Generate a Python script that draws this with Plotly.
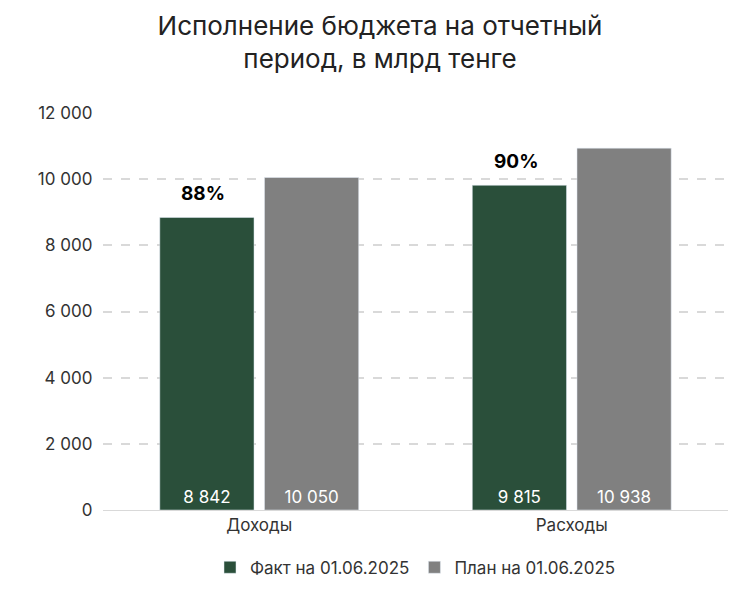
import plotly.graph_objects as go

categories = ["Доходы", "Расходы"]
fact = [8842, 9815]
plan = [10050, 10938]
pct = ["88%", "90%"]
fact_name = "Факт на 01.06.2025"
plan_name = "План на 01.06.2025"

def fmt(v):
    return f"{v:,}".replace(",", " ")

FONT = "Inter, Open Sans, sans-serif"

fig = go.Figure()
fig.add_trace(go.Bar(x=categories, y=fact, name=fact_name, marker_color="#2a4f3a",
                     text=[fmt(v) for v in fact], textposition="inside",
                     insidetextanchor="start", textangle=0,
                     textfont=dict(color="white", size=17)))
fig.add_trace(go.Bar(x=categories, y=plan, name=plan_name, marker_color="#808080",
                     text=[fmt(v) for v in plan], textposition="inside",
                     insidetextanchor="start", textangle=0,
                     textfont=dict(color="white", size=17)))

for c, v, p in zip(categories, fact, pct):
    fig.add_annotation(x=c, y=v, text=f"<b>{p}</b>", showarrow=False,
                       xshift=-56, yshift=24, font=dict(size=19, color="black"))

fig.update_layout(
    width=744, height=593,
    font=dict(family=FONT, color="#333"),
    title=dict(text="Исполнение бюджета на отчетный<br>период, в млрд тенге",
               x=0.5, xanchor="center", y=0.955, yanchor="top",
               font=dict(size=26, color="#222")),
    barmode="group", bargap=0.33, bargroupgap=0.1,
    plot_bgcolor="white", paper_bgcolor="white",
    margin=dict(l=95, r=24, t=105, b=91),
    yaxis=dict(range=[0, 12000], dtick=2000, tickformat=",", separatethousands=True,
               showgrid=True, gridcolor="#d9d9d9", griddash="dash", gridwidth=2,
               zeroline=False, tickfont=dict(size=17), ticksuffix="  "),
    xaxis=dict(tickfont=dict(size=17), showline=True, linecolor="#d9d9d9"),
    legend=dict(orientation="h", x=0.5, xanchor="center", y=-0.1, yanchor="top",
                font=dict(size=17)),
    separators=". ",
)
fig.write_html("out.html")
